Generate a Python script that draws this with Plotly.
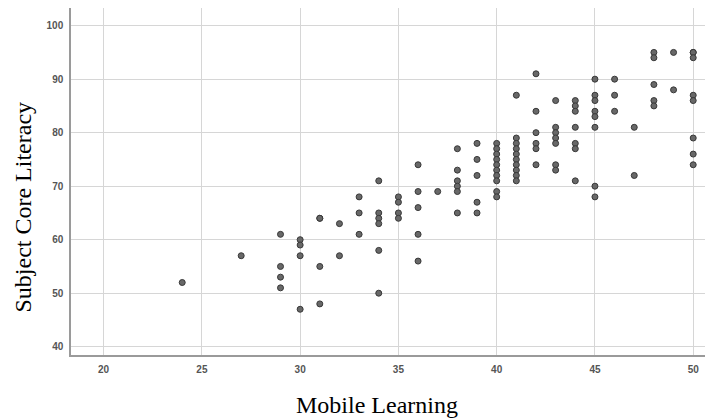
import plotly.graph_objects as go

# Data (Mobile Learning vs Subject Core Literacy)
mobile_learning = (
    [24] + [27] + [29]*4 + [30]*4 + [31]*4 + [32]*2 + [33]*3 + [34]*6 + [35]*4 + [36]*5 + [37]
    + [38]*6 + [39]*5 + [40]*10 + [41]*10 + [42]*6 + [43]*7 + [44]*7 + [45]*8 + [46]*3
    + [47]*2 + [48]*5 + [49]*2 + [50]*8
)
core_literacy = (
    [52]
    + [57]
    + [61, 55, 53, 51]
    + [60, 59, 57, 47]
    + [64, 64, 55, 48]
    + [63, 57]
    + [68, 65, 61]
    + [71, 65, 64, 63, 58, 50]
    + [68, 67, 65, 64]
    + [74, 69, 66, 61, 56]
    + [69]
    + [77, 73, 71, 70, 69, 65]
    + [78, 75, 72, 67, 65]
    + [78, 77, 76, 75, 74, 73, 72, 71, 69, 68]
    + [87, 79, 78, 77, 76, 75, 74, 73, 72, 71]
    + [91, 84, 80, 78, 77, 74]
    + [86, 81, 80, 79, 78, 74, 73]
    + [86, 85, 84, 81, 78, 77, 71]
    + [90, 87, 86, 84, 83, 81, 70, 68]
    + [90, 87, 84]
    + [81, 72]
    + [95, 94, 89, 86, 85]
    + [95, 88]
    + [95, 95, 94, 87, 86, 79, 76, 74]
)

x_ticks = [20, 25, 30, 35, 40, 45, 50]
y_ticks = [40, 50, 60, 70, 80, 90, 100]

fig = go.Figure()
fig.add_trace(go.Scatter(
    x=mobile_learning, y=core_literacy, mode="markers",
    marker=dict(size=6, color="#686868", line=dict(color="#383838", width=1)),
    showlegend=False, hoverinfo="x+y",
))

axis_common = dict(
    showgrid=True, gridcolor="#d6d6d6", gridwidth=1,
    showline=True, linecolor="#9a9a9a", linewidth=1.5,
    zeroline=False, ticks="outside", ticklen=4, tickcolor="rgba(0,0,0,0)",
    tickfont=dict(family="Liberation Sans", size=10, color="#555555", weight="bold"),
)

fig.update_xaxes(range=[18.34, 50.6], tickvals=x_ticks, ticktext=[str(v) for v in x_ticks],
                 **axis_common)
fig.update_yaxes(range=[38.45, 103.3], tickvals=y_ticks, ticktext=[str(v) for v in y_ticks],
                 **axis_common)

fig.add_annotation(text="Mobile Learning", xref="paper", yref="paper", x=0.482, y=-0.144,
                   xanchor="center", yanchor="middle", showarrow=False,
                   font=dict(family="Liberation Serif", size=24, color="#000000"))
fig.add_annotation(text="Subject Core Literacy", xref="paper", yref="paper", x=-0.0757, y=0.425,
                   xanchor="center", yanchor="middle", textangle=-90, showarrow=False,
                   font=dict(family="Liberation Serif", size=24, color="#000000"))

# page has an 8px body margin, so the figure is sized to fit the window
fig.update_layout(
    width=708, height=411,
    margin=dict(l=63, r=11, t=0, b=64),
    plot_bgcolor="#ffffff", paper_bgcolor="#ffffff",
)

fig.write_html("out.html")
